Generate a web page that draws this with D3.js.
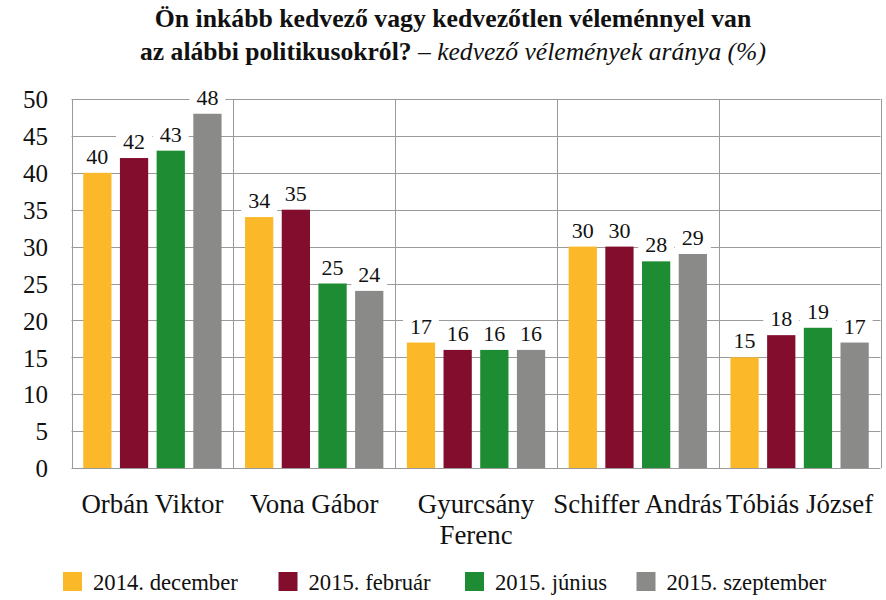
<!DOCTYPE html>
<html><head><meta charset="utf-8">
<script src="https://cdn.jsdelivr.net/npm/d3@7"></script>
<style>body{margin:0;background:#fff}svg{display:block}
svg text, svg tspan{font-family:"Liberation Serif","Times New Roman",serif !important}</style>
</head><body>
<svg id="c" width="886" height="600" style="font-family:'Liberation Serif',serif"></svg>
<script>
const categories = [["Orbán Viktor"],["Vona Gábor"],["Gyurcsány","Ferenc"],["Schiffer András"],["Tóbiás József"]];
const seriesNames = ["2014. december","2015. február","2015. június","2015. szeptember"];
const dec2014 = [40,34,17,30,15];
const feb2015 = [42,35,16,30,18];
const jun2015 = [43,25,16,28,19];
const sep2015 = [48,24,16,29,17];
const yTicks = [0,5,10,15,20,25,30,35,40,45,50];
const colors = ["#FBB829","#820D2C","#1E8C33","#8A8B88"];

const series = [dec2014,feb2015,jun2015,sep2015];
const FF = "Liberation Serif, Times New Roman, serif";
const svg = d3.select("#c");
const L=71.5, R=880.5, T=99, B=468;
const x0 = d3.scaleBand().domain(d3.range(categories.length)).range([L,R]).padding(0);
const x1 = d3.scaleBand().domain(d3.range(series.length)).range([0,x0.bandwidth()]).paddingInner(0.23).paddingOuter(0.32);
const y = d3.scaleLinear().domain([0,50]).range([B,T]);
const grid="#9a9a9a";

function txt(sel){ return sel.attr("font-family",FF).style("font-family",FF,"important").attr("fill","#111"); }
function fit(nodes, ref, target, base){
  const w = ref.getComputedTextLength();
  const s = (w>0? base*target/w : base);
  nodes.forEach(n=>d3.select(n).style("font-size",s+"px"));
}

// title
const t1 = txt(svg.append("text")).attr("text-anchor","middle").attr("x",453).attr("y",27).style("font-size","24px").style("font-weight","bold")
  .text("Ön inkább kedvező vagy kedvezőtlen véleménnyel van");
fit([t1.node()], t1.node(), 597, 24);
const t2 = txt(svg.append("text")).attr("text-anchor","middle").style("font-size","24px").attr("x",453).attr("y",60);
txt(t2.append("tspan")).style("font-weight","bold").text("az alábbi politikusokról?");
txt(t2.append("tspan")).style("font-style","italic").text(" – kedvező vélemények aránya (%)");
fit([t2.node()], t2.node(), 626, 24);

// gridlines
svg.append("g").selectAll("line").data(yTicks).join("line")
  .attr("x1",L).attr("x2",R).attr("y1",d=>Math.round(y(d))+0.5).attr("y2",d=>Math.round(y(d))+0.5)
  .attr("stroke",grid).attr("stroke-width",1);
const vx = d3.range(categories.length+1).map(i=> i<categories.length? x0(i): R);
svg.append("g").selectAll("line").data(vx).join("line")
  .attr("x1",d=>Math.round(d)+0.5).attr("x2",d=>Math.round(d)+0.5).attr("y1",T).attr("y2",B)
  .attr("stroke",grid).attr("stroke-width",1);

// y axis labels
const yAxis = d3.axisLeft(y).tickValues(yTicks).tickSize(0).tickPadding(0);
const ga = svg.append("g").attr("transform",`translate(48,0)`).call(yAxis);
ga.select(".domain").remove();
ga.attr("font-family",FF).attr("font-size",25);
txt(ga.selectAll("text")).style("font-size","25px").attr("dy","0.35em");

// bars
const gb = svg.append("g");
categories.forEach((c,ci)=>{
  series.forEach((s,si)=>{
    gb.append("rect").attr("x",x0(ci)+x1(si)).attr("y",y(s[ci])).attr("width",x1.bandwidth()).attr("height",B-y(s[ci])).attr("fill",colors[si]);
  });
});
// value labels with white background
const gl = svg.append("g");
categories.forEach((c,ci)=>{
  series.forEach((s,si)=>{
    const cx = x0(ci)+x1(si)+x1.bandwidth()/2;
    const by = y(s[ci])-9;
    gl.append("rect").attr("x",cx-18).attr("y",by-17).attr("width",36).attr("height",21).attr("fill","#fff");
    txt(gl.append("text")).attr("x",cx).attr("y",by).attr("text-anchor","middle").style("font-size","22px").text(s[ci]);
  });
});

// category labels
const catNodes=[];
categories.forEach((c,ci)=>{
  const tx = txt(svg.append("text")).attr("text-anchor","middle").style("font-size","26px");
  c.forEach((line,li)=>{
    txt(tx.append("tspan")).attr("x",x0(ci)+x0.bandwidth()/2).attr("y",513+li*31).text(line);
  });
  catNodes.push(tx.node());
});
fit(catNodes, catNodes[0], 142, 26);

// legend
const legX = [63,278.5,465,636.5];
const lg = svg.append("g");
const legNodes=[];
seriesNames.forEach((n,i)=>{
  lg.append("rect").attr("x",legX[i]).attr("y",572).attr("width",19).attr("height",19).attr("fill",colors[i]);
  const tt = txt(lg.append("text")).attr("x",legX[i]+30).attr("y",590).style("font-size","22px").text(n);
  legNodes.push(tt.node());
});
fit(legNodes, legNodes[3], 160, 22);
</script>
</body></html>
